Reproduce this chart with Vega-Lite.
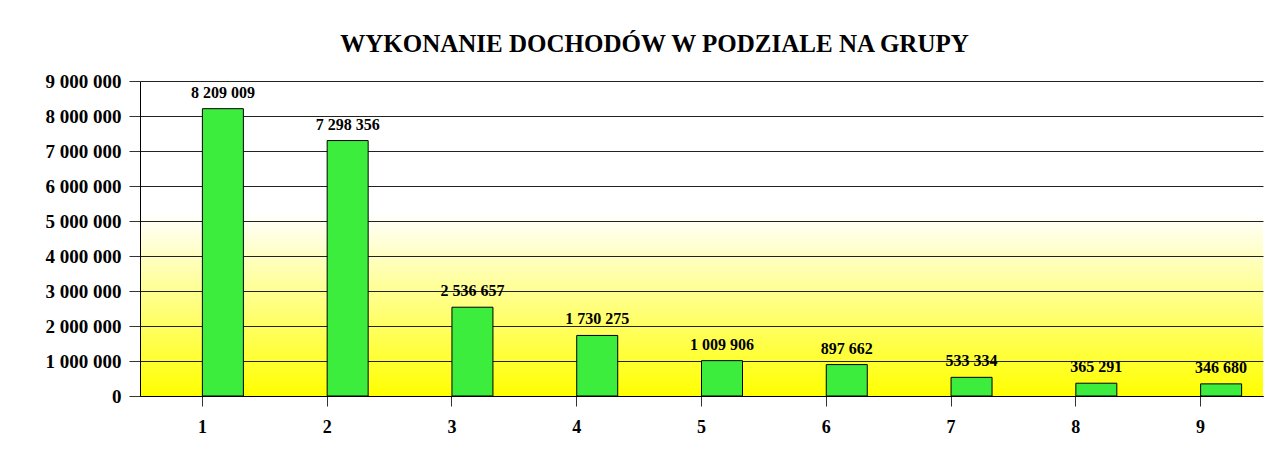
{
  "$schema": "https://vega.github.io/schema/vega-lite/v6.json",
  "autosize": "none",
  "width": 1123,
  "height": 315,
  "padding": {"left": 140, "top": 81, "right": 21, "bottom": 61},
  "background": "white",
  "title": {
    "text": "WYKONANIE DOCHODÓW W PODZIALE  NA GRUPY",
    "font": "Liberation Serif",
    "fontSize": 25,
    "fontWeight": "bold",
    "color": "black",
    "anchor": "middle",
    "frame": "group",
    "dx": -47,
    "offset": 15
  },
  "config": {
    "locale": {"number": {"decimal": ",", "thousands": " ", "grouping": [3], "currency": ["", ""]}},
    "view": {
      "stroke": null,
      "fill": {
        "gradient": "linear",
        "x1": 0, "y1": 0, "x2": 0, "y2": 1,
        "stops": [
          {"offset": 0, "color": "#ffffff"},
          {"offset": 0.42, "color": "#ffffff"},
          {"offset": 1, "color": "#ffff00"}
        ]
      }
    },
    "font": "Liberation Serif"
  },
  "data": {
    "values": [
      {"grupa": "1", "wartosc": 8209009},
      {"grupa": "2", "wartosc": 7298356},
      {"grupa": "3", "wartosc": 2536657},
      {"grupa": "4", "wartosc": 1730275},
      {"grupa": "5", "wartosc": 1009906},
      {"grupa": "6", "wartosc": 897662},
      {"grupa": "7", "wartosc": 533334},
      {"grupa": "8", "wartosc": 365291},
      {"grupa": "9", "wartosc": 346680}
    ]
  },
  "encoding": {
    "x": {
      "field": "grupa",
      "type": "ordinal",
      "scale": {"paddingInner": 0, "paddingOuter": 0},
      "axis": {
        "title": null,
        "labelAngle": 0,
        "labelFont": "Liberation Serif",
        "labelFontSize": 18,
        "labelFontWeight": "bold",
        "labelColor": "black",
        "labelPadding": 12,
        "domainColor": "black",
        "domainWidth": 1,
        "tickColor": "#333333",
        "tickSize": 10,
        "grid": false
      }
    },
    "y": {
      "field": "wartosc",
      "type": "quantitative",
      "scale": {"domain": [0, 9000000], "nice": false},
      "axis": {
        "title": null,
        "values": [0, 1000000, 2000000, 3000000, 4000000, 5000000, 6000000, 7000000, 8000000, 9000000],
        "format": ",d",
        "labelFont": "Liberation Serif",
        "labelFontSize": 19,
        "labelFontWeight": "bold",
        "labelColor": "black",
        "labelPadding": 8,
        "domainColor": "black",
        "tickColor": "#333333",
        "tickSize": 11,
        "grid": true,
        "gridColor": "#222222",
        "gridWidth": 1,
        "gridOpacity": 1
      }
    }
  },
  "layer": [
    {
      "mark": {"type": "bar", "width": 41, "xOffset": 20.5, "color": "#3ded3d", "stroke": "black", "strokeWidth": 1}
    },
    {
      "mark": {"type": "text", "xOffset": 20.5, "dy": -11, "baseline": "alphabetic", "font": "Liberation Serif", "fontSize": 16, "fontWeight": "bold", "color": "black"},
      "encoding": {
        "text": {"field": "wartosc", "type": "quantitative", "format": ",d"}
      }
    }
  ]
}
